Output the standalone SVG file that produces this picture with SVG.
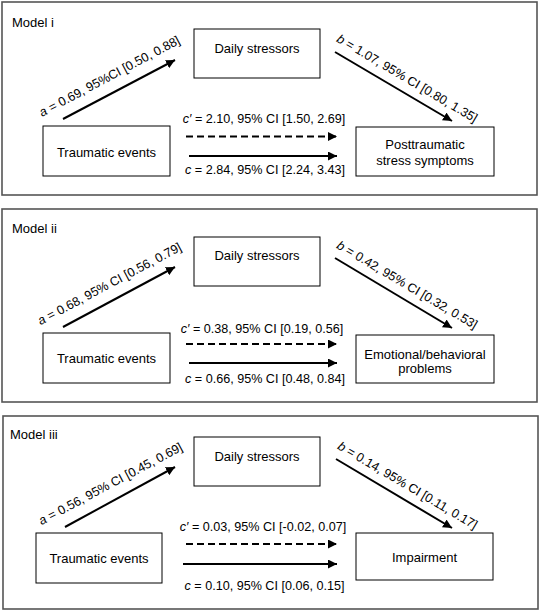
<svg xmlns="http://www.w3.org/2000/svg" width="540" height="610" viewBox="0 0 540 610">
<style>
.frame{fill:#fff;stroke:#555;stroke-width:1.6}
.box{fill:#fff;stroke:#000;stroke-width:1}
.t{font-family:"Liberation Sans",Arial,sans-serif;font-size:13px;fill:#000}
.m{text-anchor:middle}
.lbl{font-family:"Liberation Sans",Arial,sans-serif;font-size:12.6px;fill:#000;text-anchor:middle}
.arr{stroke:#000;stroke-width:2;fill:none;marker-end:url(#ah)}
.dash{stroke-dasharray:7 4}
.i{font-style:italic}
</style>
<defs>
<marker id="ah" markerUnits="userSpaceOnUse" markerWidth="10" markerHeight="9" refX="9" refY="4.5" orient="auto">
<path d="M0,0 L9,4.5 L0,9 z" fill="#000"/>
</marker>
</defs>
<rect width="540" height="610" fill="#fff"/>

<!-- Panel 1 -->
<g id="panel1">
<rect class="frame" x="2" y="2" width="535" height="193"/>
<text class="t" x="12" y="26.5">Model i</text>
</g>
<g id="p1-daily"><rect class="box" x="194" y="29" width="126" height="49"/><text class="t m" x="257" y="52.5">Daily stressors</text></g>
<g id="p1-trauma"><rect class="box" x="43" y="126" width="127" height="50"/><text class="t m" x="106.5" y="156.5">Traumatic events</text></g>
<g id="p1-outcome"><rect class="box" x="356" y="127" width="138" height="49"/><text class="t m" x="425" y="148.5">Posttraumatic</text><text class="t m" x="425" y="165">stress symptoms</text></g>
<g id="p1-connectors">
<line class="arr" x1="63" y1="119" x2="175" y2="60"/>
<line class="arr" x1="335" y1="52" x2="452" y2="121"/>
<line class="arr dash" x1="186" y1="136.5" x2="337" y2="136.5"/>
<line class="arr" x1="189" y1="156" x2="337" y2="156"/>
<text class="lbl" transform="translate(111.5,80) rotate(-28)"><tspan class="i">a</tspan> = 0.69, 95%CI [0.50, 0.88]</text>
<text class="lbl" transform="translate(405,82) rotate(30.5)"><tspan class="i">b</tspan> = 1.07, 95% CI [0.80, 1.35]</text>
<text class="lbl" x="264" y="123"><tspan class="i">c′</tspan> = 2.10, 95% CI [1.50, 2.69]</text>
<text class="lbl" x="265" y="174"><tspan class="i">c</tspan> = 2.84, 95% CI [2.24, 3.43]</text>
</g>

<!-- Panel 2 -->
<g id="panel2">
<rect class="frame" x="2" y="209" width="535" height="193"/>
<text class="t" x="12" y="232.5">Model ii</text>
</g>
<g id="p2-daily"><rect class="box" x="194" y="237" width="126" height="49"/><text class="t m" x="257" y="259.5">Daily stressors</text></g>
<g id="p2-trauma"><rect class="box" x="43" y="333" width="127" height="50"/><text class="t m" x="106.5" y="362.5">Traumatic events</text></g>
<g id="p2-outcome"><rect class="box" x="356" y="335" width="138" height="48"/><text class="t m" x="425" y="358.5">Emotional/behavioral</text><text class="t m" x="425" y="373">problems</text></g>
<g id="p2-connectors">
<line class="arr" x1="63" y1="327" x2="175" y2="267"/>
<line class="arr" x1="335" y1="258" x2="452" y2="328"/>
<line class="arr dash" x1="186" y1="344" x2="337" y2="344"/>
<line class="arr" x1="189" y1="363" x2="337" y2="363"/>
<text class="lbl" transform="translate(111.5,287.5) rotate(-28)"><tspan class="i">a</tspan> = 0.68, 95% CI [0.56, 0.79]</text>
<text class="lbl" transform="translate(405,288.5) rotate(30.5)"><tspan class="i">b</tspan> = 0.42, 95% CI [0.32, 0.53]</text>
<text class="lbl" x="262" y="332.5"><tspan class="i">c′</tspan> = 0.38, 95% CI [0.19, 0.56]</text>
<text class="lbl" x="265" y="382.5"><tspan class="i">c</tspan> = 0.66, 95% CI [0.48, 0.84]</text>
</g>

<!-- Panel 3 -->
<g id="panel3">
<rect class="frame" x="3" y="416" width="535" height="193"/>
<text class="t" x="10" y="439">Model iii</text>
</g>
<g id="p3-daily"><rect class="box" x="194" y="437" width="126" height="49"/><text class="t m" x="257" y="460.5">Daily stressors</text></g>
<g id="p3-trauma"><rect class="box" x="36" y="533" width="126" height="50"/><text class="t m" x="99" y="562.5">Traumatic events</text></g>
<g id="p3-outcome"><rect class="box" x="356" y="533" width="137" height="47"/><text class="t m" x="424.5" y="562">Impairment</text></g>
<g id="p3-connectors">
<line class="arr" x1="65" y1="527" x2="175" y2="467"/>
<line class="arr" x1="336" y1="459" x2="452" y2="528"/>
<line class="arr dash" x1="186" y1="544" x2="337" y2="544"/>
<line class="arr" x1="183" y1="564" x2="337" y2="564"/>
<text class="lbl" transform="translate(112.5,487.5) rotate(-28)"><tspan class="i">a</tspan> = 0.56, 95% CI [0.45, 0.69]</text>
<text class="lbl" transform="translate(405.5,489) rotate(30.5)"><tspan class="i">b</tspan> = 0.14, 95% CI [0.11, 0.17]</text>
<text class="lbl" x="263" y="530.5"><tspan class="i">c′</tspan> = 0.03, 95% CI [-0.02, 0.07]</text>
<text class="lbl" x="264.5" y="589.5"><tspan class="i">c</tspan> = 0.10, 95% CI [0.06, 0.15]</text>
</g>
</svg>
